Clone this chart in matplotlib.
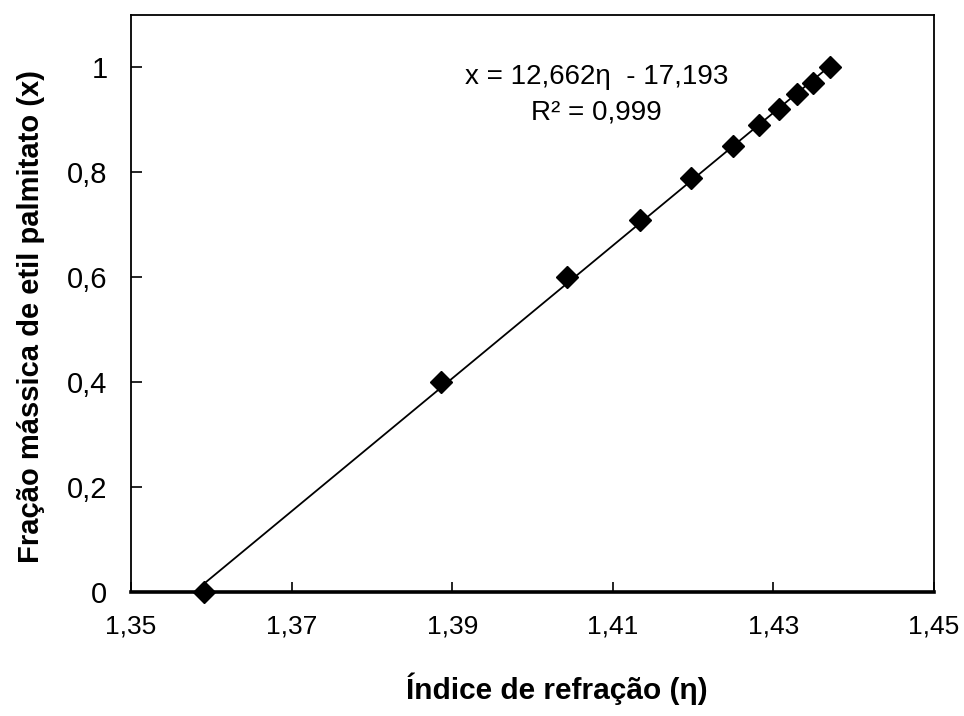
import matplotlib
matplotlib.use("Agg")
import matplotlib.pyplot as plt
import numpy as np

# Refractive index and mass fraction of ethyl palmitate
eta = [1.3591, 1.3886, 1.4043, 1.4134, 1.4198, 1.4250, 1.4282, 1.4307, 1.4330, 1.4349, 1.4371]
frac = [0.0, 0.40, 0.60, 0.71, 0.79, 0.85, 0.89, 0.92, 0.95, 0.97, 1.00]

# Linear trendline reported on the chart
slope = 12.662
intercept = -17.193
r2_text = "0,999"

x_ticks = [1.35, 1.37, 1.39, 1.41, 1.43, 1.45]
x_tick_labels = ["1,35", "1,37", "1,39", "1,41", "1,43", "1,45"]
y_ticks = [0, 0.2, 0.4, 0.6, 0.8, 1.0]
y_tick_labels = ["0", "0,2", "0,4", "0,6", "0,8", "1"]

plt.rcParams["font.family"] = ["Liberation Sans", "DejaVu Sans"]

fig = plt.figure(figsize=(9.64, 7.16), dpi=100)
ax = fig.add_axes([131 / 964, 1 - 592 / 716, (934 - 131) / 964, (592 - 15) / 716])

# trendline over the data range
xs = np.array([min(eta), max(eta)])
ax.plot(xs, slope * xs + intercept, color="black", lw=1.3, zorder=2)
ax.plot(eta, frac, linestyle="none", marker="D", ms=11, color="black", zorder=3,
        clip_on=False)

ax.set_xlim(1.35, 1.45)
ax.set_ylim(0, 1.1)
ax.set_xticks(x_ticks)
ax.set_xticklabels(x_tick_labels, fontsize=19)
ax.set_yticks(y_ticks)
ax.set_yticklabels(y_tick_labels, fontsize=21)
ax.tick_params(axis="x", direction="in", length=7, width=1.2, pad=16)
ax.tick_params(axis="y", direction="in", length=8, width=1.2, pad=17)

for side in ("left", "top", "right"):
    ax.spines[side].set_linewidth(1.3)
ax.spines["bottom"].set_linewidth(2.6)

ax.set_xlabel("Índice de refração (η)", fontsize=21.5, fontweight="bold")
ax.xaxis.set_label_coords(0.53, -0.14)
ax.set_ylabel("Fração mássica de etil palmitato (x)", fontsize=21,
              fontweight="bold")
ax.yaxis.set_label_coords(-0.107, 0.477)

ax.text(1.4080, 0.982, "x = 12,662η  - 17,193", ha="center", va="center",
        fontsize=20)
ax.text(1.4080, 0.915, "R² = " + r2_text, ha="center", va="center",
        fontsize=20)

fig.savefig("out.png", dpi=100)
